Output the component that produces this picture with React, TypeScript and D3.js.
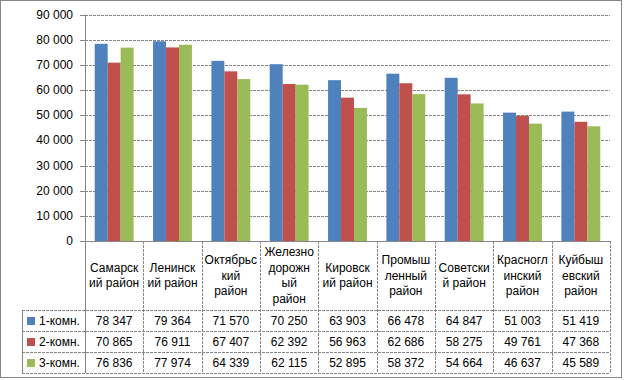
import React from "react";
import * as d3 from "d3";

const categories = [
  ["Самарск", "ий район"],
  ["Ленинск", "ий район"],
  ["Октябрьс", "кий", "район"],
  ["Железно", "дорожн", "ый", "район"],
  ["Кировск", "ий район"],
  ["Промыш", "ленный", "район"],
  ["Советски", "й район"],
  ["Красногл", "инский", "район"],
  ["Куйбыш", "евский", "район"],
];
const seriesNames = ["1-комн.", "2-комн.", "3-комн."];
const s1 = [78347, 79364, 71570, 70250, 63903, 66478, 64847, 51003, 51419];
const s2 = [70865, 76911, 67407, 62392, 56963, 62686, 58275, 49761, 47368];
const s3 = [76836, 77974, 64339, 62115, 52895, 58372, 54664, 46637, 45589];
const colors = ["#4F81BD", "#C0504D", "#9BBB59"];
const yTicks = [0, 10000, 20000, 30000, 40000, 50000, 60000, 70000, 80000, 90000];

const W = 624, H = 380;
const left = 85, right = 610, top = 14.5, bottom = 241;
const headerBottom = 310, rowH = 21;
const legendLeft = 22;
const font = "'Liberation Sans', Arial, sans-serif";
const grid = "#868686";

export default function App() {
  const series = [s1, s2, s3];
  const x = d3.scaleBand<number>().domain(d3.range(categories.length)).range([left, right]).paddingInner(0).paddingOuter(0);
  const bw = x.bandwidth();
  const barW = bw / 4.5;
  const y = d3.scaleLinear().domain([0, 90000]).range([bottom, top]);
  const fmt = (v: number) => d3.format(",")(v).replace(/,/g, " ");
  const tableBottom = headerBottom + rowH * 3;

  return (
    <div style={{ position: "absolute", left: 0, top: 0 }}>
      <svg width={W} height={H} style={{ display: "block", fontFamily: font }}>
        <rect x={0} y={0} width={W} height={H} fill="#fff" />
        <rect x={0.5} y={0.5} width={621} height={377} fill="#fff" stroke={grid} />
        {/* gridlines */}
        {yTicks.map((t) => (
          <g key={t}>
            {t > 0 && <line x1={left} x2={right} y1={Math.round(y(t)) + 0.5} y2={Math.round(y(t)) + 0.5} stroke={grid} strokeDasharray="3,1" />}
            <line x1={left - 5} x2={left} y1={Math.round(y(t)) + 0.5} y2={Math.round(y(t)) + 0.5} stroke={grid} />
            <text x={73} y={y(t) + 4} textAnchor="end" fontSize={12} fill="#000">
              {fmt(t).replace(/(\d)(\d{3})$/, "$1 $2")}
            </text>
          </g>
        ))}
        {/* bars */}
        {categories.map((c, i) =>
          series.map((s, j) => (
            <rect
              key={`${i}-${j}`}
              x={(x(i) as number) + barW * 0.75 + j * barW}
              y={y(s[i])}
              width={barW}
              height={bottom - y(s[i])}
              fill={colors[j]}
            />
          ))
        )}
        {/* axis lines */}
        <line x1={left + 0.5} x2={left + 0.5} y1={top} y2={tableBottom} stroke={grid} />
        <line x1={left} x2={right} y1={bottom + 0.5} y2={bottom + 0.5} stroke={grid} />
        {/* table */}
        {d3.range(categories.length + 1).map((i) => {
          const xx = Math.round(left + i * bw) + 0.5;
          return <line key={i} x1={xx} x2={xx} y1={bottom} y2={tableBottom} stroke={grid} strokeDasharray={i === 0 ? undefined : "3,1"} />;
        })}
        {[0, 1, 2, 3].map((r) => {
          const yy = headerBottom + r * rowH + 0.5;
          return <line key={r} x1={legendLeft} x2={right} y1={yy} y2={yy} stroke={grid} strokeDasharray="3,1" />;
        })}
        <line x1={legendLeft + 0.5} x2={legendLeft + 0.5} y1={headerBottom} y2={tableBottom} stroke={grid} />
        {categories.map((lines, i) => {
          const cx = (x(i) as number) + bw / 2;
          const cy = (bottom + headerBottom) / 2;
          const lh = 15.7;
          const y0 = cy - ((lines.length - 1) * lh) / 2;
          return (
            <text key={i} textAnchor="middle" fontSize={12} fill="#000">
              {lines.map((l, k) => (
                <tspan key={k} x={cx} y={y0 + k * lh + 4}>
                  {l}
                </tspan>
              ))}
            </text>
          );
        })}
        {series.map((s, j) => {
          const ry = headerBottom + j * rowH;
          return (
            <g key={j}>
              <rect x={27} y={ry + 7} width={8} height={8} fill={colors[j]} />
              <text x={39} y={ry + 15} fontSize={12} fill="#000">
                {seriesNames[j]}
              </text>
              {s.map((v, i) => (
                <text key={i} x={(x(i) as number) + bw / 2} y={ry + 15} textAnchor="middle" fontSize={12} fill="#000">
                  {fmt(v)}
                </text>
              ))}
            </g>
          );
        })}
      </svg>
    </div>
  );
}
